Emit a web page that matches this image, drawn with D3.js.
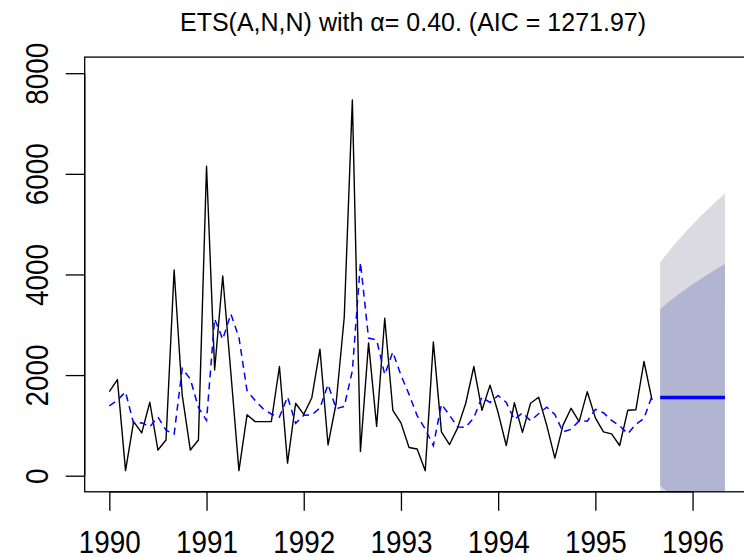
<!DOCTYPE html>
<html>
<head>
<meta charset="utf-8">
<script src="https://cdn.jsdelivr.net/npm/d3@7"></script>
<style>
  html, body { margin: 0; padding: 0; background: #fff; }
  svg { display: block; }
  text { font-family: "Liberation Sans", Arial, sans-serif; fill: #000; }
</style>
</head>
<body>
<svg id="chart" width="744" height="557"></svg>
<script>
// Monthly series, January 1990 – August 1995
const startYear = 1990;
const observed = [
  1670, 1910, 100, 1075, 850, 1460, 510, 710, 4090, 1600,
  510, 710, 6150, 2100, 3970, 2050, 100, 1210, 1075, 1075,
  1075, 2170, 250, 1440, 1220, 1550, 2515, 611, 1440, 3150,
  7470, 480, 2640, 980, 3130, 1300, 1050, 560, 530, 100,
  2660, 870, 620, 950, 1440, 2170, 1300, 1800, 1250, 600,
  1450, 860, 1440, 1560, 1000, 350, 1000, 1340, 1075, 1670,
  1150, 870, 830, 600, 1300, 1310, 2270, 1500
];
// One-step fitted values of the ETS(A,N,N) model
const fitted = [
  1390, 1502, 1665, 1039, 1053, 972, 1167, 904, 826, 2132,
  1919, 1355, 1097, 3118, 2711, 3215, 2749, 1689, 1497, 1328,
  1227, 1166, 1568, 1041, 1201, 1209, 1345, 1813, 1332, 1375,
  2085, 4239, 2735, 2697, 2010, 2458, 1995, 1617, 1194, 928,
  597, 1422, 1201, 969, 961, 1153, 1560, 1456, 1594, 1456,
  1114, 1248, 1093, 1232, 1363, 1218, 871, 923, 1090, 1084,
  1318, 1251, 1099, 991, 835, 1021, 1137, 1590
];
// Forecasts, September 1995 – May 1996
const fcMean  = [1554, 1554, 1554, 1554, 1554, 1554, 1554, 1554, 1554];
const fcHi80  = [3310, 3445, 3571, 3690, 3803, 3910, 4012, 4111, 4206];
const fcLo80  = [-202, -337, -463, -582, -695, -802, -904, -1003, -1098];
const fcHi95  = [4239, 4446, 4639, 4821, 4992, 5156, 5313, 5463, 5608];
const fcLo95  = [-1131, -1338, -1531, -1713, -1884, -2048, -2205, -2355, -2500];

const xTicks = [1990, 1991, 1992, 1993, 1994, 1995, 1996];
const yTicks = [0, 2000, 4000, 6000, 8000];
const yLimits = [0, 8000];
const titleText = "ETS(A,N,N) with \u03B1= 0.40. (AIC = 1271.97)";

// ---- layout ----
const plot = { left: 84.7, right: 749.6, top: 57.1, bottom: 491.8 };
const svg = d3.select("#chart");

const timeAt = i => startYear + i / 12;
const fcStart = observed.length;
const tFirst = timeAt(0), tLast = timeAt(fcStart + fcMean.length - 1);
const xPad = 0.04 * (tLast - tFirst);
const yPad = 0.04 * (yLimits[1] - yLimits[0]);

const x = d3.scaleLinear()
  .domain([tFirst - xPad, tLast + xPad])
  .range([plot.left, plot.right]);
const y = d3.scaleLinear()
  .domain([yLimits[0] - yPad, yLimits[1] + yPad])
  .range([plot.bottom, plot.top]);

svg.append("defs").append("clipPath").attr("id", "plotClip")
  .append("rect")
  .attr("x", plot.left).attr("y", plot.top)
  .attr("width", plot.right - plot.left)
  .attr("height", plot.bottom - plot.top);

const body = svg.append("g").attr("clip-path", "url(#plotClip)");

// prediction intervals: 95% (light) under 80% (dark)
const fcIdx = d3.range(fcMean.length);
const band = (lo, hi) => d3.area()
  .x(i => x(timeAt(fcStart + i)))
  .y0(i => y(lo[i]))
  .y1(i => y(hi[i]));

body.append("path").datum(fcIdx)
  .attr("d", band(fcLo95, fcHi95))
  .attr("fill", "#dadae0");
body.append("path").datum(fcIdx)
  .attr("d", band(fcLo80, fcHi80))
  .attr("fill", "#b1b5d1");

// observed series
const seriesLine = d3.line()
  .x((d, i) => x(timeAt(i)))
  .y(d => y(d));

body.append("path").datum(observed)
  .attr("d", seriesLine)
  .attr("fill", "none")
  .attr("stroke", "#000")
  .attr("stroke-width", 1.4)
  .attr("stroke-linejoin", "round");

// fitted values
body.append("path").datum(fitted)
  .attr("d", seriesLine)
  .attr("fill", "none")
  .attr("stroke", "#0000ff")
  .attr("stroke-width", 1.5)
  .attr("stroke-dasharray", "7,5");

// point forecasts
body.append("path").datum(fcMean)
  .attr("d", d3.line()
    .x((d, i) => x(timeAt(fcStart + i)))
    .y(d => y(d)))
  .attr("fill", "none")
  .attr("stroke", "#0000ff")
  .attr("stroke-width", 3.5);

// ---- axes ----
const tickLen = 19;
const labelSize = 32;
const labelSquash = 0.87;   // narrow digits, as in the axis font

const xAxis = svg.append("g")
  .attr("transform", `translate(0,${plot.bottom})`)
  .call(d3.axisBottom(x).tickValues(xTicks).tickSize(tickLen).tickFormat(d3.format("d")));
xAxis.select(".domain").remove();
xAxis.append("line")
  .attr("x1", x(xTicks[0])).attr("x2", x(xTicks[xTicks.length - 1]))
  .attr("stroke", "#000").attr("stroke-width", 1.3);
xAxis.selectAll(".tick line").attr("stroke", "#000").attr("stroke-width", 1.3);
xAxis.selectAll(".tick text")
  .attr("x", 0).attr("y", 0).attr("dy", 0)
  .attr("transform", `translate(0,61) scale(${labelSquash},1)`)
  .attr("font-size", labelSize)
  .attr("font-family", "Liberation Sans, Arial, sans-serif")
  .attr("fill", "#000");

const yAxis = svg.append("g")
  .attr("transform", `translate(${plot.left},0)`)
  .call(d3.axisLeft(y).tickValues(yTicks).tickSize(tickLen).tickFormat(d3.format("d")));
yAxis.select(".domain").remove();
yAxis.append("line")
  .attr("y1", y(yTicks[0])).attr("y2", y(yTicks[yTicks.length - 1]))
  .attr("stroke", "#000").attr("stroke-width", 1.3);
yAxis.selectAll(".tick line").attr("stroke", "#000").attr("stroke-width", 1.3);
yAxis.selectAll(".tick text")
  .attr("x", 0).attr("y", 0).attr("dy", 0)
  .attr("transform", `rotate(-90) translate(0,-37) scale(${labelSquash},1)`)
  .attr("text-anchor", "middle")
  .attr("font-size", labelSize)
  .attr("font-family", "Liberation Sans, Arial, sans-serif")
  .attr("fill", "#000");

// plot frame
svg.append("rect")
  .attr("x", plot.left).attr("y", plot.top)
  .attr("width", plot.right - plot.left)
  .attr("height", plot.bottom - plot.top)
  .attr("fill", "none")
  .attr("stroke", "#000")
  .attr("stroke-width", 1.3);

// title
svg.append("text")
  .attr("x", 413).attr("y", 31)
  .attr("text-anchor", "middle")
  .attr("font-size", 25)
  .text(titleText);
</script>
</body>
</html>
